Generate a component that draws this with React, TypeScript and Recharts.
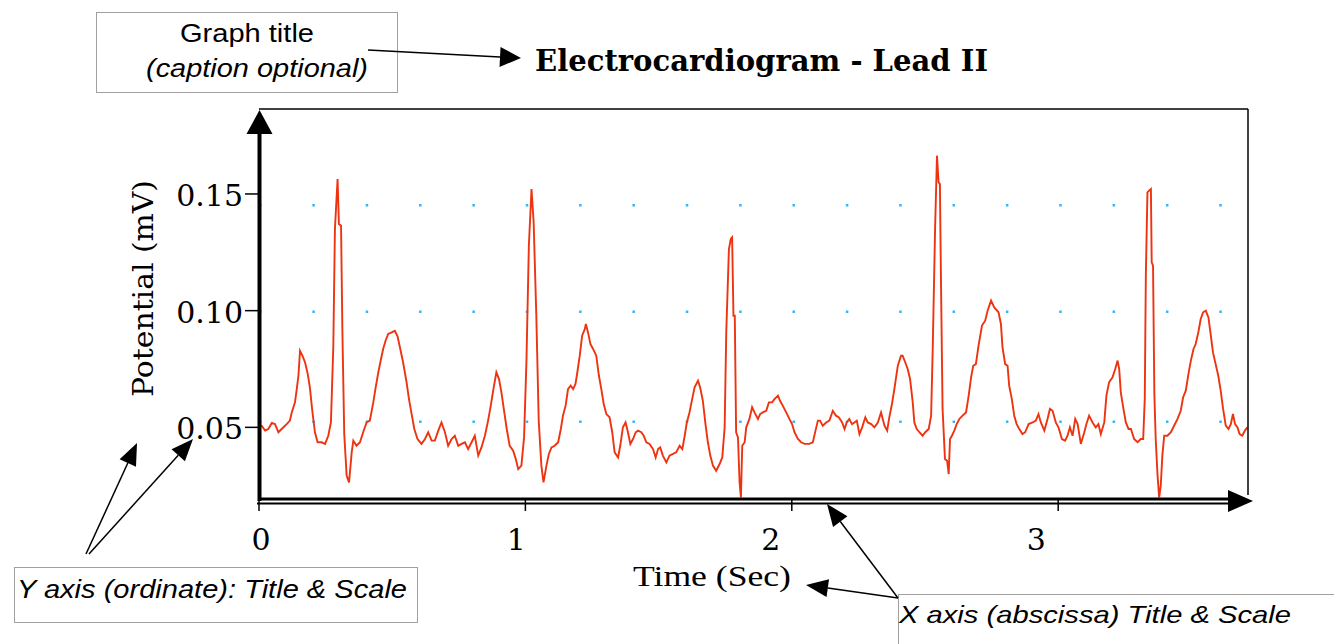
import React from 'react';
import { LineChart, Line, XAxis, YAxis, CartesianGrid } from 'recharts';

// ECG trace (time in s, potential in mV)
const timeSec = [
  0.000, 0.010, 0.023, 0.035, 0.048, 0.060, 0.073, 0.085, 0.104, 0.116,
  0.123, 0.135, 0.141, 0.148, 0.154, 0.163, 0.173, 0.183, 0.191, 0.200,
  0.210, 0.220, 0.235, 0.248, 0.260, 0.270, 0.279, 0.285, 0.295, 0.300,
  0.308, 0.313, 0.320, 0.329, 0.338, 0.348, 0.354, 0.366, 0.379, 0.391,
  0.404, 0.416, 0.429, 0.438, 0.448, 0.458, 0.466, 0.475, 0.485, 0.498,
  0.510, 0.520, 0.529, 0.541, 0.554, 0.563, 0.573, 0.583, 0.595, 0.610,
  0.623, 0.635, 0.648, 0.660, 0.673, 0.685, 0.698, 0.710, 0.723, 0.735,
  0.748, 0.760, 0.773, 0.785, 0.798, 0.810, 0.823, 0.835, 0.848, 0.860,
  0.870, 0.880, 0.891, 0.901, 0.910, 0.920, 0.930, 0.941, 0.954, 0.964,
  0.973, 0.985, 0.995, 1.004, 1.013, 1.023, 1.031, 1.041, 1.050, 1.060,
  1.068, 1.079, 1.088, 1.098, 1.110, 1.123, 1.133, 1.141, 1.151, 1.160,
  1.170, 1.179, 1.188, 1.195, 1.204, 1.213, 1.223, 1.227, 1.235, 1.244,
  1.254, 1.266, 1.276, 1.285, 1.294, 1.304, 1.316, 1.326, 1.335, 1.348,
  1.356, 1.366, 1.376, 1.385, 1.394, 1.404, 1.414, 1.423, 1.435, 1.444,
  1.454, 1.466, 1.479, 1.489, 1.498, 1.506, 1.516, 1.529, 1.541, 1.554,
  1.566, 1.579, 1.589, 1.598, 1.606, 1.616, 1.626, 1.635, 1.648, 1.656,
  1.666, 1.676, 1.685, 1.694, 1.704, 1.716, 1.729, 1.739, 1.748, 1.754,
  1.764, 1.771, 1.776, 1.781, 1.786, 1.791, 1.798, 1.804, 1.809, 1.814,
  1.823, 1.829, 1.841, 1.851, 1.860, 1.873, 1.881, 1.891, 1.904, 1.914,
  1.926, 1.935, 1.948, 1.956, 1.966, 1.979, 1.991, 2.001, 2.010, 2.023,
  2.035, 2.048, 2.066, 2.079, 2.089, 2.098, 2.106, 2.116, 2.129, 2.141,
  2.154, 2.166, 2.176, 2.189, 2.198, 2.206, 2.216, 2.226, 2.235, 2.244,
  2.254, 2.264, 2.276, 2.285, 2.298, 2.310, 2.323, 2.335, 2.348, 2.358,
  2.366, 2.376, 2.385, 2.398, 2.410, 2.416, 2.426, 2.435, 2.444, 2.454,
  2.460, 2.469, 2.479, 2.491, 2.501, 2.514, 2.523, 2.529, 2.538, 2.545,
  2.551, 2.556, 2.560, 2.566, 2.575, 2.583, 2.589, 2.594, 2.601, 2.610,
  2.619, 2.629, 2.641, 2.654, 2.664, 2.673, 2.681, 2.691, 2.701, 2.714,
  2.726, 2.735, 2.748, 2.760, 2.776, 2.785, 2.791, 2.801, 2.810, 2.816,
  2.826, 2.835, 2.844, 2.854, 2.866, 2.876, 2.889, 2.904, 2.916, 2.926,
  2.935, 2.948, 2.960, 2.969, 2.979, 2.991, 3.001, 3.014, 3.026, 3.035,
  3.044, 3.054, 3.064, 3.073, 3.085, 3.098, 3.106, 3.116, 3.129, 3.141,
  3.151, 3.160, 3.173, 3.181, 3.191, 3.204, 3.214, 3.223, 3.229, 3.235,
  3.244, 3.254, 3.264, 3.273, 3.285, 3.298, 3.310, 3.319, 3.325, 3.329,
  3.335, 3.341, 3.348, 3.351, 3.356, 3.361, 3.366, 3.373, 3.379, 3.385,
  3.391, 3.398, 3.410, 3.423, 3.435, 3.448, 3.460, 3.469, 3.479, 3.489,
  3.498, 3.508, 3.516, 3.526, 3.535, 3.544, 3.554, 3.564, 3.573, 3.581,
  3.591, 3.601, 3.610, 3.619, 3.629, 3.639, 3.648, 3.656, 3.664, 3.673,
  3.681, 3.691, 3.701, 3.710,
];

const potentialMv = [
  0.0505, 0.0507, 0.0486, 0.0493, 0.0519, 0.0514, 0.0479, 0.0493, 0.0514, 0.0529,
  0.0564, 0.0607, 0.0657, 0.0721, 0.0828, 0.0807, 0.0778, 0.0728, 0.0671, 0.0571,
  0.0479, 0.0436, 0.0436, 0.0429, 0.0464, 0.0521, 0.0850, 0.1350, 0.1564, 0.1371,
  0.1364, 0.0914, 0.0471, 0.0293, 0.0264, 0.0393, 0.0443, 0.0421, 0.0436, 0.0479,
  0.0521, 0.0529, 0.0607, 0.0671, 0.0736, 0.0793, 0.0836, 0.0871, 0.0900, 0.0907,
  0.0914, 0.0890, 0.0843, 0.0778, 0.0693, 0.0621, 0.0557, 0.0493, 0.0450, 0.0429,
  0.0450, 0.0479, 0.0443, 0.0443, 0.0486, 0.0521, 0.0479, 0.0421, 0.0450, 0.0464,
  0.0421, 0.0429, 0.0436, 0.0407, 0.0436, 0.0464, 0.0379, 0.0414, 0.0464, 0.0529,
  0.0593, 0.0664, 0.0736, 0.0707, 0.0650, 0.0571, 0.0493, 0.0421, 0.0400, 0.0364,
  0.0321, 0.0336, 0.0457, 0.0786, 0.1278, 0.1521, 0.1378, 0.0978, 0.0529, 0.0336,
  0.0264, 0.0336, 0.0386, 0.0414, 0.0421, 0.0436, 0.0493, 0.0550, 0.0593, 0.0664,
  0.0679, 0.0664, 0.0686, 0.0736, 0.0807, 0.0893, 0.0921, 0.0943, 0.0907, 0.0857,
  0.0836, 0.0807, 0.0721, 0.0664, 0.0600, 0.0557, 0.0543, 0.0479, 0.0393, 0.0371,
  0.0421, 0.0500, 0.0521, 0.0479, 0.0429, 0.0450, 0.0479, 0.0486, 0.0479, 0.0464,
  0.0436, 0.0429, 0.0407, 0.0371, 0.0407, 0.0414, 0.0379, 0.0350, 0.0379, 0.0386,
  0.0393, 0.0421, 0.0407, 0.0464, 0.0521, 0.0564, 0.0621, 0.0671, 0.0700, 0.0671,
  0.0614, 0.0514, 0.0436, 0.0379, 0.0336, 0.0314, 0.0343, 0.0371, 0.0500, 0.0907,
  0.1264, 0.1307, 0.1314, 0.0978, 0.0978, 0.0479, 0.0457, 0.0264, 0.0200, 0.0421,
  0.0436, 0.0500, 0.0536, 0.0586, 0.0564, 0.0536, 0.0557, 0.0564, 0.0571, 0.0607,
  0.0607, 0.0621, 0.0636, 0.0614, 0.0593, 0.0564, 0.0536, 0.0514, 0.0479, 0.0450,
  0.0436, 0.0429, 0.0429, 0.0436, 0.0486, 0.0529, 0.0529, 0.0507, 0.0521, 0.0529,
  0.0571, 0.0550, 0.0543, 0.0521, 0.0493, 0.0521, 0.0536, 0.0514, 0.0521, 0.0529,
  0.0471, 0.0500, 0.0543, 0.0521, 0.0514, 0.0500, 0.0521, 0.0564, 0.0507, 0.0486,
  0.0543, 0.0600, 0.0664, 0.0764, 0.0807, 0.0807, 0.0778, 0.0750, 0.0707, 0.0607,
  0.0521, 0.0493, 0.0479, 0.0464, 0.0479, 0.0493, 0.0550, 0.0836, 0.1357, 0.1664,
  0.1550, 0.1542, 0.1128, 0.0579, 0.0364, 0.0357, 0.0300, 0.0450, 0.0464, 0.0486,
  0.0514, 0.0536, 0.0550, 0.0564, 0.0636, 0.0714, 0.0764, 0.0771, 0.0850, 0.0936,
  0.0957, 0.1000, 0.1043, 0.1014, 0.0993, 0.0943, 0.0843, 0.0771, 0.0764, 0.0679,
  0.0621, 0.0550, 0.0514, 0.0493, 0.0471, 0.0479, 0.0514, 0.0521, 0.0529, 0.0557,
  0.0521, 0.0486, 0.0536, 0.0579, 0.0571, 0.0521, 0.0500, 0.0450, 0.0443, 0.0464,
  0.0500, 0.0464, 0.0536, 0.0514, 0.0429, 0.0479, 0.0514, 0.0550, 0.0521, 0.0500,
  0.0514, 0.0471, 0.0521, 0.0636, 0.0693, 0.0714, 0.0750, 0.0786, 0.0750, 0.0650,
  0.0586, 0.0521, 0.0493, 0.0493, 0.0450, 0.0436, 0.0450, 0.0450, 0.0621, 0.1150,
  0.1507, 0.1514, 0.1521, 0.1207, 0.1193, 0.0643, 0.0450, 0.0293, 0.0200, 0.0250,
  0.0379, 0.0464, 0.0464, 0.0479, 0.0507, 0.0536, 0.0571, 0.0629, 0.0657, 0.0729,
  0.0786, 0.0836, 0.0857, 0.0907, 0.0964, 0.0993, 0.1000, 0.0971, 0.0893, 0.0821,
  0.0771, 0.0721, 0.0657, 0.0579, 0.0507, 0.0493, 0.0514, 0.0557, 0.0514, 0.0500,
  0.0471, 0.0464, 0.0486, 0.0500,
];

const xTicks = [0, 1, 2, 3];
const yTicks = [0.05, 0.1, 0.15];
const gridRowsMv = [0.1452, 0.0995, 0.0524];

const ecgData = timeSec.map((t, i) => ({ t, mv: potentialMv[i] }));

const W = 1334;
const H = 644;
const PLOT = { left: 259, top: 109, right: 1248, bottom: 499 };
// the tick labels in the original sit a little left of their tick marks
const X_LABEL_NUDGE = [2, -9, -21, -22];

const XTick = (props: any) => {
  const { x, payload } = props;
  const i = xTicks.indexOf(payload.value);
  return (
    <g>
      <line x1={x} x2={x} y1={PLOT.bottom} y2={PLOT.bottom + 12} stroke="#000" strokeWidth={1.5} />
      <text
        x={x + (X_LABEL_NUDGE[i] || 0)}
        y={550}
        textAnchor="middle"
        fontFamily="DejaVu Serif"
        fontSize={30}
        fill="#000"
      >
        {payload.value}
      </text>
    </g>
  );
};

const YTick = (props: any) => {
  const { y, payload } = props;
  return (
    <g>
      <line x1={PLOT.left - 14} x2={PLOT.left} y1={y} y2={y} stroke="#000" strokeWidth={1.5} />
      <text x={PLOT.left - 16} y={y + 12} textAnchor="end" fontFamily="DejaVu Serif" fontSize={30} fill="#000">
        {Number(payload.value).toFixed(2)}
      </text>
    </g>
  );
};

function Arrow({ from, to, head = 20, half = 9, width = 1.5 }: any) {
  const dx = to[0] - from[0];
  const dy = to[1] - from[1];
  const len = Math.hypot(dx, dy);
  const ux = dx / len;
  const uy = dy / len;
  const bx = to[0] - ux * head;
  const by = to[1] - uy * head;
  const px = -uy;
  const py = ux;
  return (
    <g>
      <line x1={from[0]} y1={from[1]} x2={bx} y2={by} stroke="#000" strokeWidth={width} />
      <polygon
        points={`${to[0]},${to[1]} ${bx + px * half},${by + py * half} ${bx - px * half},${by - py * half}`}
        fill="#000"
      />
    </g>
  );
}

const sans = 'Liberation Sans, Arial, sans-serif';

function Overlay() {
  return (
    <svg width={W} height={H} style={{ position: 'absolute', left: 0, top: 0, pointerEvents: 'none' }}>
      {/* frame: thin top/right border, thick axes with arrowheads */}
      <line x1={PLOT.left} y1={PLOT.top} x2={PLOT.right} y2={PLOT.top} stroke="#000" strokeWidth={1.5} />
      <line x1={PLOT.right} y1={PLOT.top} x2={PLOT.right} y2={495} stroke="#000" strokeWidth={1.5} />
      <line x1={259.5} y1={PLOT.bottom + 2} x2={259.5} y2={132} stroke="#000" strokeWidth={4} />
      <polygon points="259.5,110 246.5,134 272.5,134" fill="#000" />
      <line x1={258} y1={499} x2={1230} y2={499} stroke="#000" strokeWidth={3} />
      <line x1={257} y1={503.5} x2={1230} y2={503.5} stroke="#000" strokeWidth={2} />
      <polygon points="1253,501 1228,490 1228,512" fill="#000" />

      {/* title */}
      <text
        x={535}
        y={71}
        fontFamily="DejaVu Serif"
        fontWeight="bold"
        fontSize={29}
        textLength={453}
        lengthAdjust="spacingAndGlyphs"
        fill="#000"
      >
        Electrocardiogram - Lead II
      </text>

      {/* axis titles */}
      <text
        x={153}
        y={288.5}
        transform="rotate(-90 153 288.5)"
        textAnchor="middle"
        fontFamily="DejaVu Serif"
        fontSize={27}
        textLength={217}
        lengthAdjust="spacingAndGlyphs"
        fill="#000"
      >
        Potential (mV)
      </text>
      <text
        x={633}
        y={586}
        fontFamily="Liberation Serif, Times New Roman, serif"
        fontSize={30}
        textLength={158}
        lengthAdjust="spacingAndGlyphs"
        fill="#000"
      >
        Time (Sec)
      </text>

      {/* annotation: graph title */}
      <rect x={96.5} y={12.5} width={301} height={80} fill="#fff" stroke="#a0a0a0" strokeWidth={1} />
      <text x={180} y={42} fontFamily={sans} fontSize={25} textLength={134} lengthAdjust="spacingAndGlyphs" fill="#000">
        Graph title
      </text>
      <text
        x={146}
        y={77}
        fontFamily={sans}
        fontStyle="italic"
        fontSize={25}
        textLength={222}
        lengthAdjust="spacingAndGlyphs"
        fill="#000"
      >
        (caption optional)
      </text>
      <Arrow from={[368, 50]} to={[521, 58]} head={21} half={10} />

      {/* annotation: y axis */}
      <rect x={14.5} y={567.5} width={403} height={55} fill="#fff" stroke="#a0a0a0" strokeWidth={1} />
      <text
        x={17}
        y={598}
        fontFamily={sans}
        fontStyle="italic"
        fontSize={25}
        textLength={390}
        lengthAdjust="spacingAndGlyphs"
        fill="#000"
      >
        Y axis (ordinate): Title &amp; Scale
      </text>
      <Arrow from={[86, 554]} to={[137, 443]} head={22} half={9} />
      <Arrow from={[89, 554]} to={[193, 439]} head={22} half={9} />

      {/* annotation: x axis */}
      <rect x={898.5} y={594.5} width={440} height={60} fill="#fff" stroke="#a0a0a0" strokeWidth={1} />
      <text
        x={899}
        y={623}
        fontFamily={sans}
        fontStyle="italic"
        fontSize={24}
        textLength={392}
        lengthAdjust="spacingAndGlyphs"
        fill="#000"
      >
        X axis (abscissa) Title &amp; Scale
      </text>
      <Arrow from={[898, 598]} to={[806, 585]} head={22} half={9} />
      <Arrow from={[898, 598]} to={[827, 504]} head={22} half={9} />
    </svg>
  );
}

export default function App() {
  return (
    <div style={{ position: 'absolute', left: 0, top: 0, width: W, height: H, background: '#fff' }}>
      <LineChart
        width={W}
        height={H}
        data={ecgData}
        margin={{ top: PLOT.top, right: W - PLOT.right, bottom: H - PLOT.bottom - 60, left: PLOT.left - 80 }}
      >
        <CartesianGrid
          vertical={false}
          horizontalValues={gridRowsMv}
          stroke="#35b6f5"
          strokeWidth={2.5}
          strokeDasharray="2.5 50.85"
        />
        <XAxis
          dataKey="t"
          type="number"
          domain={[0, 3.7125]}
          ticks={xTicks}
          allowDataOverflow
          axisLine={false}
          tickLine={false}
          tick={<XTick />}
          height={60}
        />
        <YAxis
          type="number"
          domain={[0.0193, 0.1864]}
          ticks={yTicks}
          allowDataOverflow
          axisLine={false}
          tickLine={false}
          tick={<YTick />}
          width={80}
        />
        <Line
          type="linear"
          dataKey="mv"
          stroke="#ee3311"
          strokeWidth={1.9}
          dot={false}
          isAnimationActive={false}
        />
      </LineChart>
      <Overlay />
    </div>
  );
}
